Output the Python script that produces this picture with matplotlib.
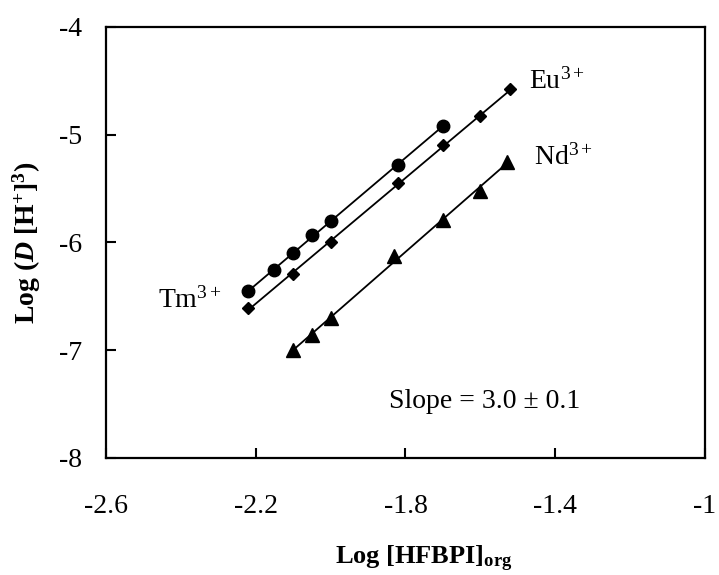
import matplotlib

matplotlib.use("Agg")
import matplotlib.pyplot as plt
import numpy as np

plt.rcParams.update({
    "font.family": "Liberation Serif",
    "axes.unicode_minus": False,
    "mathtext.fontset": "custom",
    "mathtext.rm": "Liberation Serif",
    "mathtext.it": "Liberation Serif:italic",
    "mathtext.bf": "Liberation Serif:bold",
    "mathtext.bfit": "Liberation Serif:bold:italic",
})

# Log [HFBPI]org vs Log(D[H+]^3) for each ion
tm_x = [-2.22, -2.15, -2.10, -2.05, -2.00, -1.82, -1.70]
tm_y = [-6.45, -6.26, -6.10, -5.93, -5.80, -5.28, -4.92]
eu_x = [-2.22, -2.10, -2.00, -1.82, -1.70, -1.60, -1.52]
eu_y = [-6.61, -6.29, -6.00, -5.45, -5.10, -4.83, -4.58]
nd_x = [-2.10, -2.05, -2.00, -1.83, -1.70, -1.60, -1.53]
nd_y = [-7.00, -6.86, -6.70, -6.13, -5.79, -5.52, -5.25]

x_ticks = [-2.6, -2.2, -1.8, -1.4, -1.0]
x_labels = ["-2.6", "-2.2", "-1.8", "-1.4", "-1"]
y_ticks = [-8, -7, -6, -5, -4]

fig = plt.figure(figsize=(7.19, 5.75), dpi=100)
ax = fig.add_axes([0.1474, 0.2035, 0.8331, 0.7496])

series = [(tm_x, tm_y, "o", 9), (eu_x, eu_y, "D", 6.5), (nd_x, nd_y, "^", 10)]
for xs, ys, mk, ms in series:
    xs, ys = np.array(xs), np.array(ys)
    k, b = np.polyfit(xs, ys, 1)
    xl = np.array([xs.min(), xs.max()])
    ax.plot(xl, k * xl + b, color="black", lw=1.3, zorder=2)
    ax.plot(xs, ys, mk, color="black", ms=ms, zorder=3)

ax.set_xlim(-2.6, -1.0)
ax.set_ylim(-8, -4)
ax.set_xticks(x_ticks)
ax.set_xticklabels(x_labels)
ax.set_yticks(y_ticks)
for s in ax.spines.values():
    s.set_linewidth(1.6)
ax.tick_params(axis="both", direction="in", length=7, width=1.5, labelsize=20)
ax.tick_params(axis="x", pad=26)
ax.tick_params(axis="y", pad=17)

ax.set_xlabel(r"Log [HFBPI]$_{\mathbf{org}}$", fontsize=19, fontweight="bold")
ax.xaxis.set_label_coords(0.53, -0.20)
ax.set_ylabel(r"Log ($\mathbfit{D}$ [H$^{\mathbf{+}}$]$^{\mathbf{3}}$)",
              fontsize=20, fontweight="bold")
ax.yaxis.set_label_coords(-0.105, 0.5)

ax.text(-1.469, -4.575, r"Eu$^{3+}$", fontsize=20, va="baseline")
ax.text(-1.458, -5.28, r"Nd$^{3+}$", fontsize=20, va="baseline")
ax.text(-2.461, -6.60, r"Tm$^{3+}$", fontsize=20, va="baseline")
ax.text(-1.844, -7.535, "Slope = 3.0 \u00b1 0.1", fontsize=20, va="baseline")

fig.savefig("out.png", dpi=100)
